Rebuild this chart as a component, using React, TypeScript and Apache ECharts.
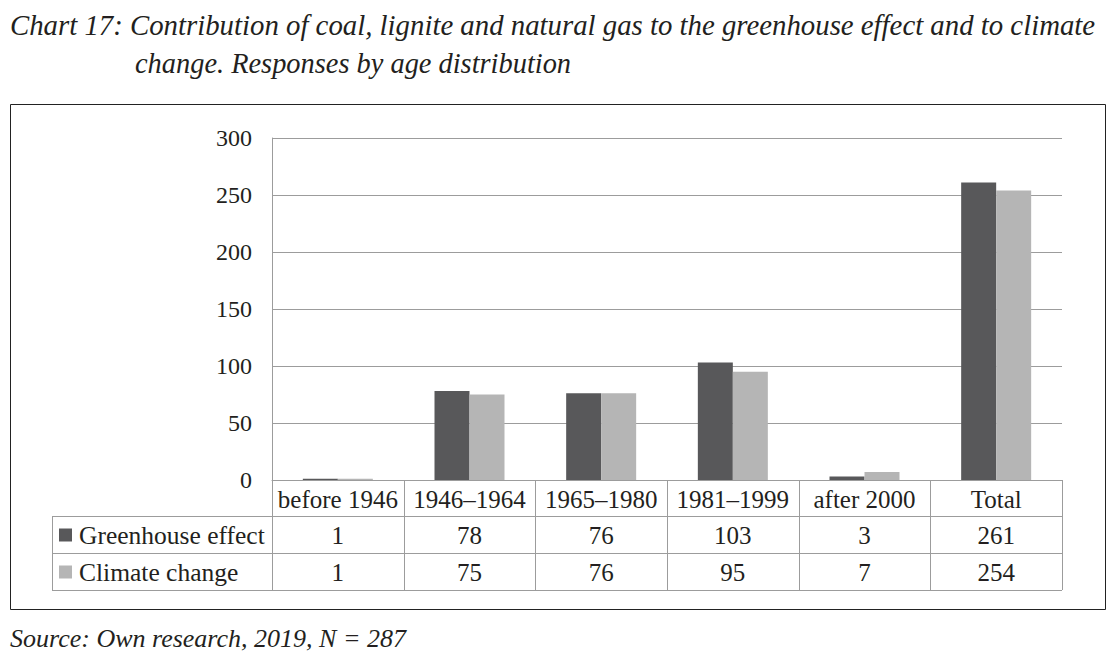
import React, { useEffect, useRef } from "react";
import * as echarts from "echarts";

const categories = ["before 1946", "1946–1964", "1965–1980", "1981–1999", "after 2000", "Total"];
const seriesNames = ["Greenhouse effect", "Climate change"];
const greenhouse = [1, 78, 76, 103, 3, 261];
const climate = [1, 75, 76, 95, 7, 254];
const yMin = 0;
const yMax = 300;
const yInterval = 50;
const titleLines = [
  "Chart 17: Contribution of coal, lignite and natural gas to the greenhouse effect and to climate",
  "change. Responses by age distribution",
];
const sourceText = "Source: Own research, 2019, N = 287";

const FONT = "Liberation Serif, serif";
const TEXT = "#231f20";
const LINE = "#9c9c9c";
const DARK = "#58585a";
const LIGHT = "#b5b5b5";

// layout (chart coords)
const GL = 264;
const GR = 1054;
const GT = 130;
const GB = 472;
const HEAD_B = 508;
const ROW1_B = 545;
const ROW2_B = 582;
const LEG_L = 44;

export default function App() {
  const ref = useRef<HTMLDivElement>(null);
  useEffect(() => {
    if (!ref.current) return;
    const chart = echarts.init(ref.current, undefined, { renderer: "svg" });
    const n = categories.length;
    const catW = (GR - GL) / n;
    const rows = [greenhouse, climate];
    const colors = [DARK, LIGHT];
    const g: any[] = [];
    const ln = (x1: number, y1: number, x2: number, y2: number) =>
      g.push({ type: "line", shape: { x1, y1, x2, y2 }, style: { stroke: LINE, lineWidth: 1 }, silent: true });
    const txt = (x: number, y: number, text: string, size: number, italic: boolean, align = "left") =>
      g.push({
        type: "text",
        x,
        y,
        style: {
          text,
          fontFamily: FONT,
          fontSize: size,
          fontStyle: italic ? "italic" : "normal",
          fill: TEXT,
          align,
          verticalAlign: "middle",
        },
      });

    // outer box
    g.push({ type: "rect", shape: { x: 2.5, y: 96.5, width: 1095, height: 505 }, style: { fill: "none", stroke: "#222", lineWidth: 1 } });
    // titles
    txt(2, 17, titleLines[0], 28.8, true);
    txt(127, 55, titleLines[1], 28.4, true);
    txt(2, 630, sourceText, 26, true);

    // table lines
    ln(LEG_L, HEAD_B + 0.5, GR, HEAD_B + 0.5);
    ln(LEG_L, ROW1_B + 0.5, GR, ROW1_B + 0.5);
    ln(LEG_L, ROW2_B + 0.5, GR, ROW2_B + 0.5);
    ln(LEG_L + 0.5, HEAD_B, LEG_L + 0.5, ROW2_B);
    for (let i = 0; i <= n; i++) {
      const x = Math.round(GL + i * catW) + 0.5;
      ln(x, GB, x, ROW2_B);
    }
    // header texts
    categories.forEach((c, i) => txt(GL + (i + 0.5) * catW, (GB + HEAD_B) / 2 + 1, c, 25, false, "center"));
    // rows
    const rowMid = [(HEAD_B + ROW1_B) / 2 + 1, (ROW1_B + ROW2_B) / 2 + 1];
    rows.forEach((vals, r) => {
      g.push({ type: "rect", shape: { x: 51, y: rowMid[r] - 7, width: 13, height: 13 }, style: { fill: colors[r] } });
      txt(71, rowMid[r], seriesNames[r], 25.5, false);
      vals.forEach((v, i) => txt(GL + (i + 0.5) * catW, rowMid[r], String(v), 25, false, "center"));
    });

    chart.setOption({
      animation: false,
      grid: { left: GL, top: GT, width: GR - GL, height: GB - GT, containLabel: false },
      xAxis: {
        type: "category",
        data: categories,
        axisLine: { show: true, lineStyle: { color: LINE, width: 1 } },
        axisTick: { show: false },
        axisLabel: { show: false },
        splitLine: { show: false },
      },
      yAxis: {
        type: "value",
        min: yMin,
        max: yMax,
        interval: yInterval,
        axisLine: { show: true, lineStyle: { color: LINE, width: 1 } },
        axisTick: { show: false },
        axisLabel: { color: TEXT, fontFamily: FONT, fontSize: 24, margin: 20 },
        splitLine: { show: true, lineStyle: { color: LINE, width: 1 } },
      },
      series: [
        { name: seriesNames[0], type: "bar", data: greenhouse, barWidth: 35, barGap: "0%", itemStyle: { color: DARK } },
        { name: seriesNames[1], type: "bar", data: climate, barWidth: 35, barGap: "0%", itemStyle: { color: LIGHT } },
      ],
      graphic: g,
    });
    return () => chart.dispose();
  }, []);
  return <div ref={ref} style={{ width: 1103, height: 650 }} />;
}
